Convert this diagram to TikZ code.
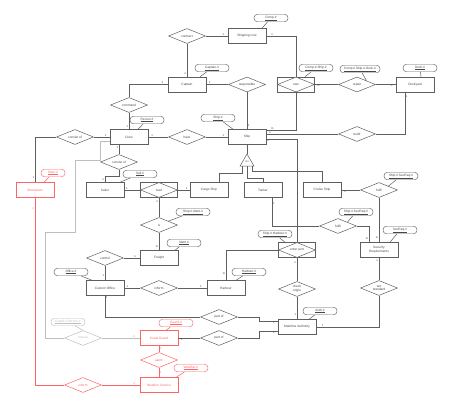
\documentclass[tikz,border=0pt]{standalone}
\usepackage{fontspec}
\setmainfont{Liberation Sans}
\usetikzlibrary{positioning,calc,shapes.geometric}
\definecolor{ER-DARK}{RGB}{95,95,95}
\definecolor{ER-TEXT}{RGB}{70,70,70}
\definecolor{ER-RED}{RGB}{255,100,100}
\definecolor{ER-GREY}{RGB}{190,190,190}

% thin underline for key attributes
\newcommand{\keytext}[1]{\vtop{\hbox{#1}\kern0.25pt\hrule height 0.1pt}}

\tikzset{
  entity/.style={draw=ER-DARK, fill=white, minimum width=38pt, minimum height=15pt, inner sep=0.5pt, text=ER-TEXT},
  relation/.style={diamond, aspect=2.5, draw=ER-DARK, fill=white, minimum width=37pt, minimum height=15pt, inner sep=0pt, text=ER-TEXT},
  weakrel/.style={draw=ER-DARK, fill=white, minimum width=37pt, minimum height=15pt, inner sep=0pt},
  attrib/.style={draw=ER-DARK, fill=white, rounded corners=3.5pt, minimum width=34pt, minimum height=7.5pt, inner sep=0.5pt, text=ER-TEXT, line width=0.45pt},
  card/.style={inner sep=0.6pt, text=ER-TEXT, font=\fontsize{2.8}{3}\selectfont},
  link/.style={draw=ER-DARK},
  redpart/.style={draw=ER-RED, text=ER-RED},
  greypart/.style={draw=ER-GREY, text=ER-GREY}
}

\begin{document}
\begin{tikzpicture}[x=1pt, y=-1pt, font=\fontsize{3.2}{3.8}\selectfont, line width=0.5pt]
  \fill[white] (0,0) rectangle (454,406);
  \useasboundingbox (0,0) rectangle (454,406);

  % Entities
  \node[entity] (shipline) at (247,36) {Shipping Line};
  \node[entity] (captain) at (187,84.5) {Captain};
  \node[entity] (dockyard) at (415,84.5) {Dockyard};
  \node[entity] (crew) at (129,137) {Crew};
  \node[entity] (ship) at (247,137) {Ship};
  \node[entity] (sailor) at (105,190) {Sailor};
  \node[entity] (cargo) at (209,190) {Cargo Ship};
  \node[entity] (tanker) at (263,190) {Tanker};
  \node[entity] (cruise) at (322,190) {Cruise Ship};
  \node[entity] (freight) at (159,258) {Freight};
  \node[entity, align=center] (secreq) at (379,250) {Security\\Requirements};
  \node[entity] (custom) at (105,288) {Custom Office};
  \node[entity] (harbour) at (226,288) {Harbour};
  \node[entity] (maritime) at (297,327) {Maritime Authority};
  \node[entity, redpart] (steersman) at (35,190) {Steersman};
  \node[entity, redpart] (coast) at (159,338) {Coast Guard};
  \node[entity, redpart] (weather) at (159,385) {Weather Service};

  % Relationships
  \node[relation] (contract) at (187,36) {contract};
  \node[relation] (responsible) at (247,84.5) {responsible};
  \node[relation] (repair) at (357,84.5) {repair};
  \node[relation] (command) at (129,105) {command};
  \node[relation] (have) at (187,137) {have};
  \node[relation] (build) at (357,134) {build};
  \node[relation] (consistA) at (75,137) {consist of};
  \node[relation] (consistB) at (119,162) {consist of};
  \node[relation] (isr) at (159,225) {is};
  \node[relation] (fulfilA) at (338,226) {fulfil};
  \node[relation] (fulfilB) at (379,190) {fulfil};
  \node[relation] (control) at (105,258) {control};
  \node[relation] (informA) at (159,288) {inform};
  \node[relation, align=center] (checkorig) at (297,289) {check\\origin};
  \node[relation, align=center] (setstd) at (379,288) {set\\standard};
  \node[relation] (partA) at (219,317) {part of};
  \node[relation] (partB) at (219,338) {part of};
  \node[relation, greypart] (rescue) at (83,338) {rescue};
  \node[relation, redpart] (alarm) at (159,360) {alarm};
  \node[relation, redpart] (informB) at (83,385) {inform};

  % Weak relationships
  \node[weakrel] (own) at (296,84.5) {};
  \node[relation] at (own) {own};
  \node[weakrel] (load) at (159,190) {};
  \node[relation] at (load) {load};
  \node[weakrel] (enter) at (297,250) {};
  \node[relation] at (enter) {enter port};

  % Specialisation of Ship
  \node[regular polygon, regular polygon sides=3, minimum size=16pt, inner sep=0pt,
    draw=ER-DARK, fill=white, text=ER-TEXT, font=\fontsize{2.6}{3}\selectfont] (isa) at (247,162) {d,o};

  % Keys
  \node[attrib] (compid) at (271,18) {\keytext{Comp.\#}};
  \node[attrib] (captainid) at (212,68) {\keytext{Captain.\#}};
  \node[attrib] (ownid) at (316,68) {\keytext{Comp.\#.Ship.\#}};
  \node[attrib, minimum width=40pt] (repairid) at (360,69) {\keytext{Comp.\#.Ship.\#.Dock.\#}};
  \node[attrib] (dockid) at (420,68) {\keytext{Dock.\#}};
  \node[attrib] (personid) at (147,120) {\keytext{Person.\#}};
  \node[attrib] (shipid) at (218,118) {\keytext{Ship.\#}};
  \node[attrib] (sailid) at (140,174) {\keytext{Sail.\#}};
  \node[attrib, redpart, minimum width=24pt] (steerid) at (53,173) {\keytext{Steer.\#}};
  \node[attrib] (isid) at (193,212) {\keytext{Ship.\#.Ident.\#}};
  \node[attrib] (identid) at (184,243) {\keytext{Ident.\#}};
  \node[attrib] (officeid) at (71,272) {\keytext{Office.\#}};
  \node[attrib] (harbourid) at (249,272) {\keytext{Harbour.\#}};
  \node[attrib] (enterid) at (275,234) {\keytext{Ship.\#.Harbour.\#}};
  \node[attrib] (fulfilAid) at (356,212) {\keytext{Ship.\#.SecReq.\#}};
  \node[attrib] (fulfilBid) at (401,176) {\keytext{Ship.\#.SecReq.\#}};
  \node[attrib] (secreqid) at (400,230) {\keytext{SecReq.\#}};
  \node[attrib] (authid) at (320,311) {\keytext{Auth.\#}};
  \node[attrib, redpart] (guardid) at (176,323) {\keytext{Guard.\#}};
  \node[attrib, redpart] (weatherid) at (191,368) {\keytext{Weather.\#}};
  \node[attrib, greypart] (rescueid) at (68,322) {\keytext{Guard.\#.Person.\#}};

  % Keys to their owners
  \draw[link] (compid) -- ([xshift=15pt]shipline.north);
  \draw[link] (captainid) -- ([xshift=13pt]captain.north);
  \draw[link] (ownid) -- ([xshift=9pt]own.north);
  \draw[link] (repairid) -- (repair.north east);
  \draw[link] (dockid) -- ([xshift=6pt]dockyard.north);
  \draw[link] (personid) -- ([xshift=9pt]crew.north);
  \draw[link] (shipid) -- ([xshift=-14pt]ship.north);
  \draw[link] (sailid) -- ([xshift=15pt]sailor.north);
  \draw[ER-RED] (steerid) -- ([xshift=9pt]steersman.north);
  \draw[link] (isid) -- (isr.north east);
  \draw[link] (identid) -- ([xshift=16pt]freight.north);
  \draw[link] (officeid) -- ([xshift=-13pt]custom.north);
  \draw[link] (harbourid) -- ([xshift=10pt]harbour.north);
  \draw[link] (enterid) -- ([xshift=-12pt]enter.north);
  \draw[link] (fulfilAid) -- (fulfilA.north east);
  \draw[link] (fulfilBid) -- (fulfilB.north east);
  \draw[link] (secreqid) -- ([xshift=11pt]secreq.north);
  \draw[link] (authid) -- ([xshift=12pt]maritime.north);
  \draw[ER-RED] (guardid) -- ([xshift=7pt]coast.north);
  \draw[ER-RED] (weatherid) -- ([xshift=17pt]weather.north);
  \draw[ER-GREY] (rescueid) -- (rescue.north);

  % Captain, shipping line, dockyard
  \draw[link] (contract) -- node[card, pos=0.8, above] {1} (shipline);
  \draw[link] (contract) -- node[card, pos=0.9, left] {n} (captain);
  \draw[link] (captain.west) -| node[card, pos=0.07, above] {1} (command.north);
  \draw[link] (command) -- node[card, pos=0.85, left] {1} (crew);
  \draw[link] (captain) -- node[card, pos=0.15, above] {1} (responsible);
  \draw[link] (responsible) -- node[card, pos=0.9, right] {1} (ship);
  \draw[link] (shipline.east) -| node[card, pos=0.1, above] {n} (own.north);
  \draw[link] (own.south) |- node[card, pos=0.9, above] {m} ([yshift=6.5pt]ship.east);
  \draw[link] (own) -- node[card, pos=0.15, below] {m} (repair);
  \draw[link] (repair) -- node[card, pos=0.8, below] {n} (dockyard);
  \draw[link] ([xshift=-10pt]dockyard.south) |- node[card, pos=0.05, right] {1} (build.east);
  \draw[link] (build.west) -- node[card, pos=0.95, above] {n} (ship.east |- build.west);
  \draw[link] ([yshift=-2pt]ship.east) -| node[card, pos=0.03, below] {n} (enter.north);

  % Crew and sailors
  \draw[link] (crew) -- node[card, pos=0.2, above] {1} (have);
  \draw[link] (have) -- node[card, pos=0.8, above] {1} (ship);
  \draw[link] (consistA) -- node[card, pos=0.75, above] {1} (crew);
  \draw[link] (consistA.west) -| node[card, pos=0.95, left] {1} (steersman.north);
  \draw[link] (consistB.north) -- node[card, pos=0.75, left] {1} (consistB.north |- crew.south);
  \draw[link] (consistB.south) |- ([yshift=6pt]sailor.north) -- node[card, left] {n} (sailor.north);
  \draw[link] (sailor) -- node[card, pos=0.15, above] {n} (load);
  \draw[link] (load) -- node[card, pos=0.75, above] {1} (cargo);
  \draw[link] (load) -- node[card, pos=0.2, left] {n} (isr);
  \draw[link] (isr) -- node[card, pos=0.8, left] {m} (freight);

  % Ship types
  \draw[link] (ship) -- (isa.corner 1);
  \draw[link] ($(isa.corner 2)!0.15!(isa.corner 3)$) -- ++(0,7) -| ([xshift=10pt]cargo.north);
  \draw[link] (isa.side 2) -- ++(0,12) -| (tanker.north);
  \draw[link] ($(isa.corner 2)!0.85!(isa.corner 3)$) -- ++(0,5) -| (cruise.north);
  \draw[link] ([xshift=9pt]tanker.south) |- node[card, pos=0.1, right] {n} (fulfilA.west);
  \draw[link] (fulfilA.east) -| node[card, pos=0.9, left] {m} ([xshift=-10pt]secreq.north);
  \draw[link] (cruise) -- node[card, pos=0.2, below] {n} (fulfilB);
  \draw[link] (fulfilB) -- node[card, pos=0.9, left] {m} (secreq);

  % Harbour side
  \draw[link] (control) -- node[card, pos=0.7, above] {n} (freight);
  \draw[link] (control) -- node[card, pos=0.7, left] {1} (custom);
  \draw[link] (custom) -- node[card, pos=0.2, above] {1} (informA);
  \draw[link] (informA) -- node[card, pos=0.8, above] {1} (harbour);
  \draw[link] (harbour.north) |- node[card, pos=0.1, left] {m} (enter.west);
  \draw[link] (enter) -- node[card, pos=0.2, left] {n} (checkorig);
  \draw[link] (checkorig) -- node[card, pos=0.8, left] {1} (maritime);
  \draw[link] (custom.south) |- node[card, pos=0.05, right] {1} (partA.west);
  \draw[link] (partA.east) -- ++(21,0) |- node[card, pos=0.9, below] {1} ([yshift=6pt]maritime.west);
  \draw[link] (coast) -- node[card, pos=0.15, below] {1} (partB);
  \draw[link] (partB.east) -- ++(21,0) |- node[card, pos=0.9, below] {1} ([yshift=-4pt]maritime.west);
  \draw[link] (secreq) -- node[card, pos=0.15, left] {n} (setstd);
  \draw[link] (setstd.south) |- node[card, pos=0.95, above] {1} (maritime.east);

  % Coast guard and weather
  \draw[ER-RED] (steersman.south) |- node[card, text=ER-RED, pos=0.03, left] {n} (informB.west);
  \draw[ER-RED] (informB) -- node[card, text=ER-RED, pos=0.85, above] {1} (weather);
  \draw[ER-RED] (coast) -- node[card, text=ER-RED, right] {n} (alarm);
  \draw[ER-RED] (alarm) -- node[card, text=ER-RED, right] {1} (weather);
  \draw[ER-GREY] (rescue) -- node[card, text=ER-GREY, pos=0.85, above] {m} (coast);
  \draw[ER-GREY] (rescue.west) -| (45,232) -| (75,160) -| (100,141)
    -- node[card, text=ER-GREY, below] {1} ([yshift=-4pt]crew.west);
\end{tikzpicture}
\end{document}
